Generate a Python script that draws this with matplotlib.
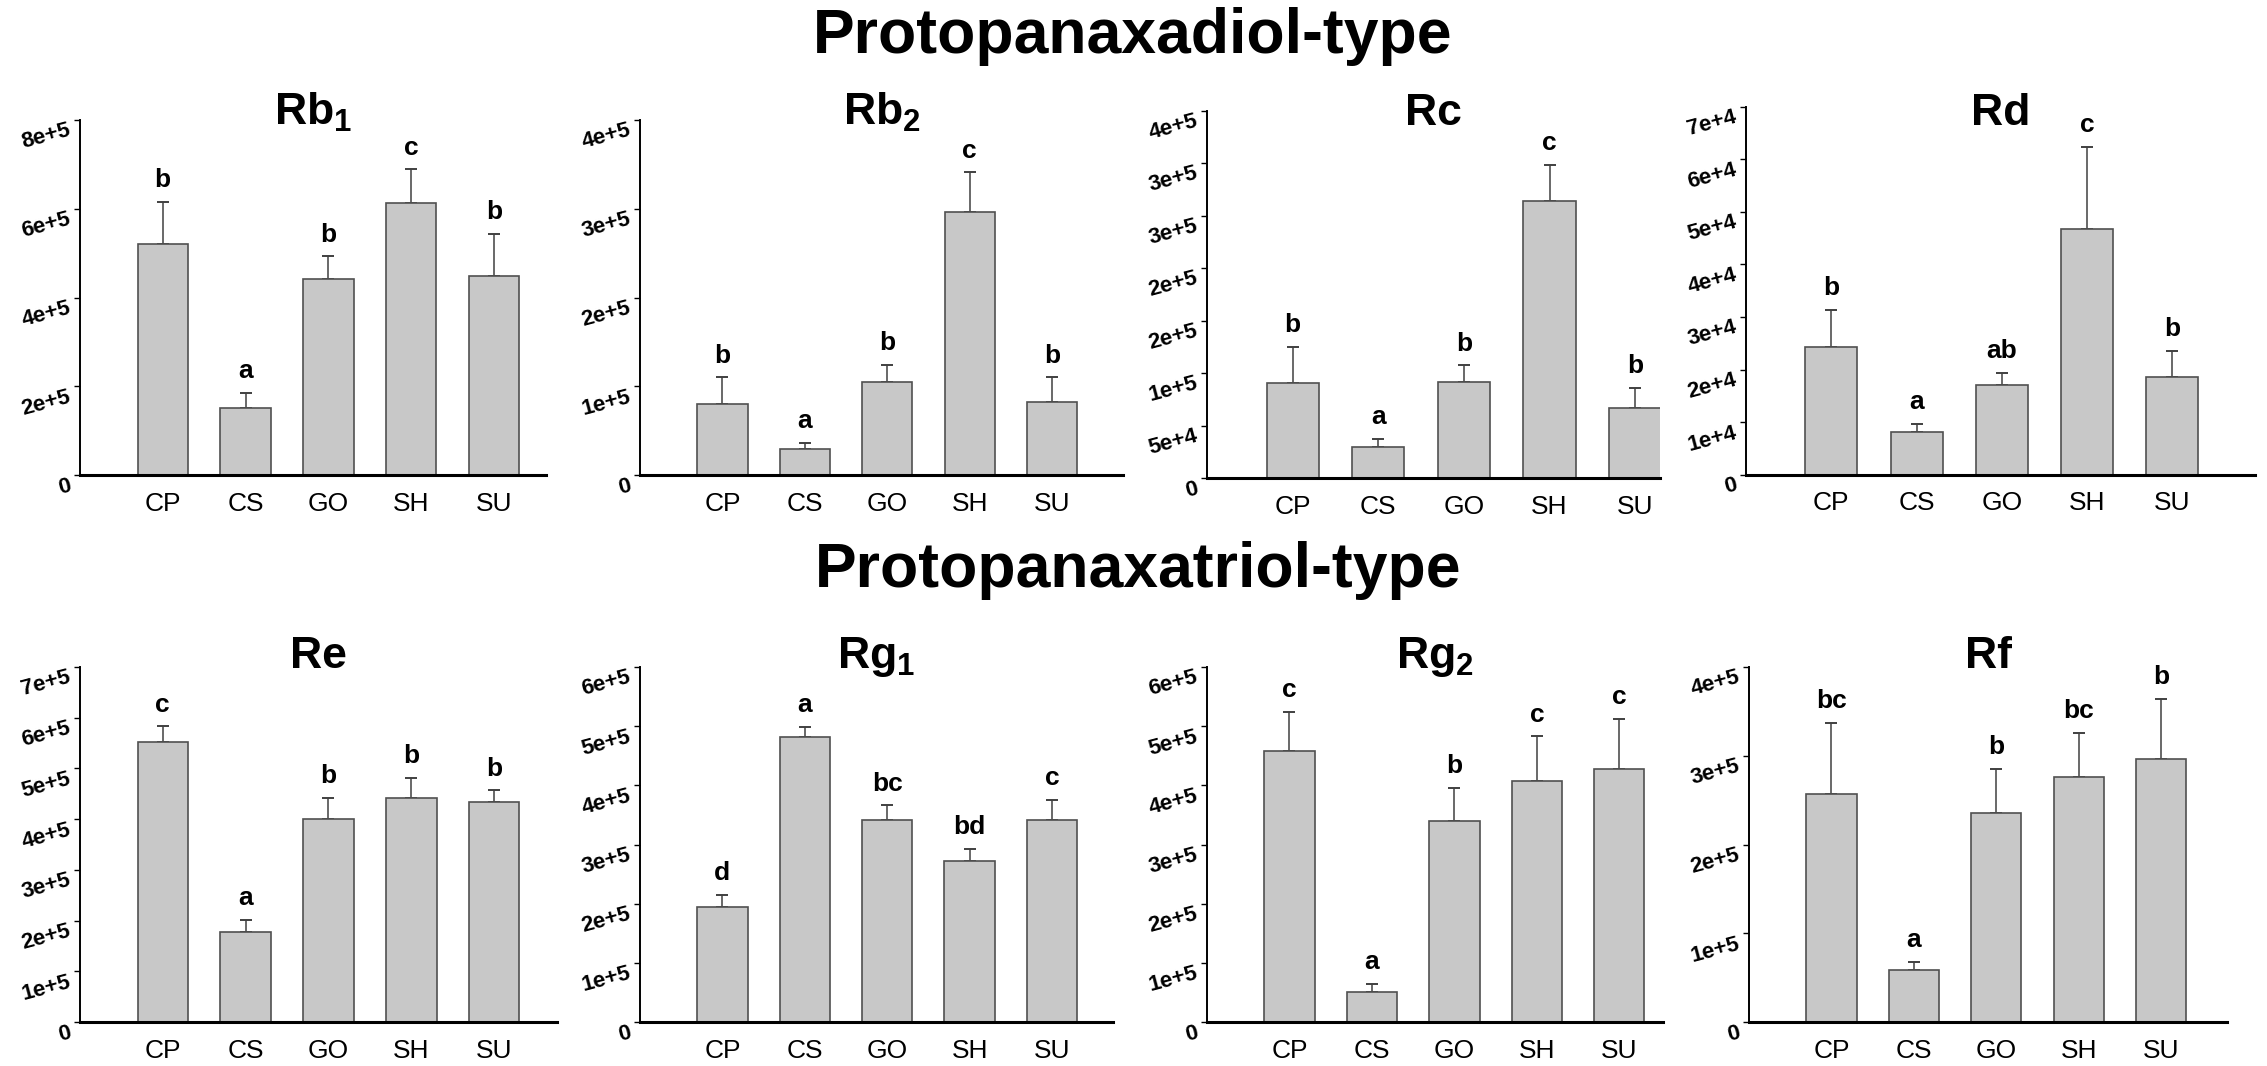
import numpy as np
import matplotlib
matplotlib.use('Agg')
import matplotlib.pyplot as plt

plt.rcParams['font.family'] = ['Liberation Sans', 'DejaVu Sans']
plt.rcParams['mathtext.fontset'] = 'custom'
plt.rcParams['mathtext.rm'] = 'Liberation Sans:bold'
plt.rcParams['mathtext.default'] = 'rm'

# Groups on the x axis
cats = ['CP', 'CS', 'GO', 'SH', 'SU']

# Mean peak areas and upper standard errors
rb1 = [5.20e5, 1.52e5, 4.41e5, 6.12e5, 4.48e5]
rb1_err = [0.96e5, 0.33e5, 0.52e5, 0.77e5, 0.96e5]
rb2 = [0.80e5, 0.29e5, 1.05e5, 2.96e5, 0.82e5]
rb2_err = [0.30e5, 0.07e5, 0.19e5, 0.45e5, 0.28e5]
rc = [0.905e5, 0.30e5, 0.917e5, 2.635e5, 0.67e5]
rc_err = [0.345e5, 0.07e5, 0.156e5, 0.345e5, 0.19e5]
rd = [2.43e4, 0.81e4, 1.71e4, 4.67e4, 1.86e4]
rd_err = [0.70e4, 0.16e4, 0.23e4, 1.56e4, 0.49e4]
re = [5.52e5, 1.78e5, 4.01e5, 4.42e5, 4.34e5]
re_err = [0.31e5, 0.23e5, 0.41e5, 0.40e5, 0.23e5]
rg1 = [1.94e5, 4.82e5, 3.41e5, 2.72e5, 3.42e5]
rg1_err = [0.21e5, 0.17e5, 0.25e5, 0.21e5, 0.34e5]
rg2 = [4.58e5, 0.50e5, 3.39e5, 4.07e5, 4.27e5]
rg2_err = [0.66e5, 0.14e5, 0.57e5, 0.76e5, 0.85e5]
rf = [2.57e5, 0.59e5, 2.36e5, 2.76e5, 2.96e5]
rf_err = [0.80e5, 0.09e5, 0.49e5, 0.50e5, 0.68e5]

# Significance letters
rb1_sig = ['b', 'a', 'b', 'c', 'b']
rb2_sig = ['b', 'a', 'b', 'c', 'b']
rc_sig = ['b', 'a', 'b', 'c', 'b']
rd_sig = ['b', 'a', 'ab', 'c', 'b']
re_sig = ['c', 'a', 'b', 'b', 'b']
rg1_sig = ['d', 'a', 'bc', 'bd', 'c']
rg2_sig = ['c', 'a', 'b', 'c', 'c']
rf_sig = ['bc', 'a', 'b', 'bc', 'b']

# y ticks and their printed labels
rb1_ticks = [0, 2e5, 4e5, 6e5, 8e5]
rb1_labels = ['0', '2e+5', '4e+5', '6e+5', '8e+5']
rb2_ticks = [0, 1e5, 2e5, 3e5, 4e5]
rb2_labels = ['0', '1e+5', '2e+5', '3e+5', '4e+5']
rc_ticks = [0, 5e4, 1e5, 1.5e5, 2e5, 2.5e5, 3e5, 3.5e5]
rc_labels = ['0', '5e+4', '1e+5', '2e+5', '2e+5', '3e+5', '3e+5', '4e+5']
rd_ticks = [0, 1e4, 2e4, 3e4, 4e4, 5e4, 6e4, 7e4]
rd_labels = ['0', '1e+4', '2e+4', '3e+4', '4e+4', '5e+4', '6e+4', '7e+4']
re_ticks = [0, 1e5, 2e5, 3e5, 4e5, 5e5, 6e5, 7e5]
re_labels = ['0', '1e+5', '2e+5', '3e+5', '4e+5', '5e+5', '6e+5', '7e+5']
rg_ticks = [0, 1e5, 2e5, 3e5, 4e5, 5e5, 6e5]
rg_labels = ['0', '1e+5', '2e+5', '3e+5', '4e+5', '5e+5', '6e+5']
rf_ticks = [0, 1e5, 2e5, 3e5, 4e5]
rf_labels = ['0', '1e+5', '2e+5', '3e+5', '4e+5']

W, H = 2267, 1066
fig = plt.figure(figsize=(W / 100, H / 100), dpi=100)


def px_axes(x0, x1, ytop, y0):
    return fig.add_axes([x0 / W, 1 - y0 / H, (x1 - x0) / W, (y0 - ytop) / H])


# (title, values, errors, letters, ticks, ticklabels, pixel box, xmax)
panels = [
    ('Rb$_1$', rb1, rb1_err, rb1_sig, rb1_ticks, rb1_labels, (80, 546, 120, 475), 4.63),
    ('Rb$_2$', rb2, rb2_err, rb2_sig, rb2_ticks, rb2_labels, (640, 1123, 120, 475), 4.86),
    ('Rc', rc, rc_err, rc_sig, rc_ticks, rc_labels, (1207, 1660, 110.5, 478), 4.29),
    ('Rd', rd, rd_err, rd_sig, rd_ticks, rd_labels, (1746, 2255, 106.7, 474.7), 4.97),
    ('Re', re, re_err, re_sig, re_ticks, re_labels, (80, 557, 667, 1022), 4.76),
    ('Rg$_1$', rg1, rg1_err, rg1_sig, rg_ticks, rg_labels, (640, 1113, 667, 1022), 4.74),
    ('Rg$_2$', rg2, rg2_err, rg2_sig, rg_ticks, rg_labels, (1207, 1663, 667, 1022), 4.53),
    ('Rf', rf, rf_err, rf_sig, rf_ticks, rf_labels, (1749, 2227, 667, 1022), 4.80),
]

x = np.arange(len(cats))
for title, vals, errs, sig, ticks, tlabels, box, xmax in panels:
    ax = px_axes(*box)
    ax.bar(x, vals, width=0.61, color='#c8c8c8', edgecolor='#505050', linewidth=1.2, zorder=2)
    ax.errorbar(x, vals, yerr=[np.zeros(len(vals)), errs], fmt='none', ecolor='#404040',
                elinewidth=1.1, capsize=4.5, capthick=1.4, zorder=1)
    for xi, v, e, s in zip(x, vals, errs, sig):
        ax.annotate(s, (xi, v + e), xytext=(0, 7), textcoords='offset points',
                    ha='center', va='bottom', fontsize=19, fontweight='bold')
    ax.set_xlim(-1, xmax)
    ax.set_ylim(0, ticks[-1])
    ax.set_yticks(ticks)
    ax.set_yticklabels(tlabels, rotation=15, ha='right', va='top', rotation_mode='anchor',
                       fontweight='bold')
    ax.set_xticks(x)
    ax.set_xticklabels(cats)
    ax.tick_params(axis='y', direction='out', length=4, width=1, pad=5, labelsize=16)
    ax.tick_params(axis='x', length=0, pad=12, labelsize=19)
    for side in ['top', 'right']:
        ax.spines[side].set_visible(False)
    ax.spines['left'].set_linewidth(1.4)
    ax.spines['bottom'].set_linewidth(2.2)
    ax.spines['bottom'].set_zorder(3)
    ax.patch.set_alpha(0)

    base = 125 if box[3] < 600 else 668
    fig.text(((box[0] + box[1]) / 2) / W, 1 - base / H, title, ha='center', va='baseline',
             fontsize=32, fontweight='bold')

fig.text(1133 / W, 1 - 53 / H, 'Protopanaxadiol-type', ha='center', va='baseline',
         fontsize=45, fontweight='bold')
fig.text(1138 / W, 1 - 587 / H, 'Protopanaxatriol-type', ha='center', va='baseline',
         fontsize=45, fontweight='bold')

fig.savefig('out.png', dpi=100, facecolor='white')
